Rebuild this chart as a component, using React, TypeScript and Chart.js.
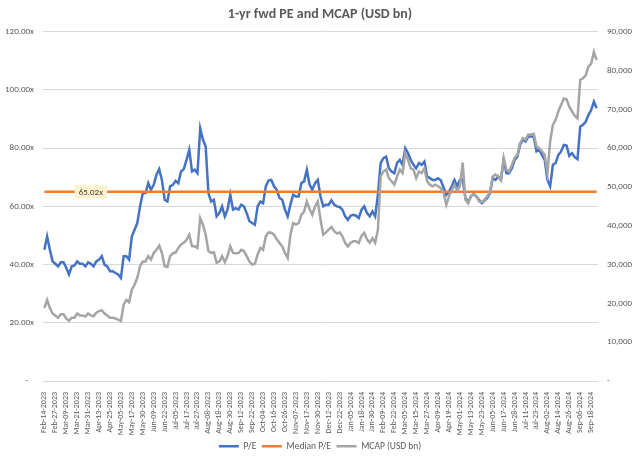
import React, { useEffect, useRef } from 'react';
import { Chart, registerables } from 'chart.js';

Chart.register(...registerables);

const TITLE = '1-yr fwd PE and MCAP (USD bn)';

const TICK_DATES = [
  'Feb-14-2023', 'Feb-27-2023', 'Mar-09-2023', 'Mar-21-2023', 'Mar-31-2023', 'Apr-13-2023', 'Apr-25-2023',
  'May-05-2023', 'May-17-2023', 'May-30-2023', 'Jun-09-2023', 'Jun-22-2023', 'Jul-05-2023', 'Jul-17-2023',
  'Jul-27-2023', 'Aug-08-2023', 'Aug-18-2023', 'Aug-30-2023', 'Sep-12-2023', 'Sep-22-2023', 'Oct-04-2023',
  'Oct-16-2023', 'Oct-26-2023', 'Nov-07-2023', 'Nov-17-2023', 'Nov-30-2023', 'Dec-12-2023', 'Dec-22-2023',
  'Jan-05-2024', 'Jan-18-2024', 'Jan-30-2024', 'Feb-09-2024', 'Feb-22-2024', 'Mar-05-2024', 'Mar-15-2024',
  'Mar-27-2024', 'Apr-09-2024', 'Apr-19-2024', 'May-01-2024', 'May-13-2024', 'May-23-2024', 'Jun-05-2024',
  'Jun-17-2024', 'Jun-28-2024', 'Jul-11-2024', 'Jul-23-2024', 'Aug-02-2024', 'Aug-14-2024', 'Aug-26-2024',
  'Sep-06-2024', 'Sep-18-2024',
];

// points between two consecutive date labels
const POINTS_PER_LABEL = 4;

const PE = [
  45.1, 49.7, 45.1, 41.1, 40.3, 39.4, 40.8, 40.8, 38.9, 36.6,
  39.4, 39.7, 41.1, 40.3, 40.3, 39.4, 40.8, 40.3, 39.4, 41.1,
  41.7, 42.9, 40.0, 39.4, 37.7, 37.7, 37.1, 36.6, 35.4, 42.9,
  42.9, 41.7, 49.7, 52.0, 54.3, 60.0, 64.6, 64.6, 68.0, 65.7,
  67.4, 70.9, 72.8, 69.1, 62.3, 61.7, 66.9, 67.4, 68.8, 68.0,
  72.0, 72.8, 76.0, 79.5, 72.0, 72.6, 71.4, 86.8, 82.9, 80.6,
  64.6, 61.7, 62.3, 56.6, 57.7, 60.0, 56.6, 58.9, 64.0, 58.9,
  59.4, 58.9, 60.6, 60.0, 57.7, 54.9, 54.3, 53.7, 60.0, 61.7,
  61.1, 66.9, 68.9, 69.1, 66.9, 65.7, 62.9, 62.3, 58.9, 56.6,
  60.6, 64.0, 63.4, 63.4, 68.0, 68.6, 72.6, 67.5, 65.7, 68.0,
  69.1, 63.4, 60.0, 60.6, 60.6, 62.1, 60.6, 60.0, 59.8, 58.9,
  56.6, 55.4, 56.8, 57.1, 56.8, 56.0, 58.9, 60.0, 57.7, 56.6,
  58.3, 56.6, 64.0, 74.9, 76.6, 77.1, 73.1, 72.0, 71.4, 74.9,
  76.0, 74.3, 80.0, 78.3, 76.0, 74.3, 73.1, 74.9, 74.3, 75.4,
  70.3, 69.7, 69.1, 69.1, 69.7, 69.0, 66.5, 64.0, 65.1, 66.9,
  69.1, 66.9, 69.1, 69.3, 62.9, 61.4, 63.4, 64.3, 63.4, 62.3,
  61.1, 62.0, 62.9, 64.6, 69.7, 69.1, 70.3, 69.1, 76.0, 71.4,
  71.4, 73.1, 76.0, 77.1, 81.1, 82.9, 82.3, 84.0, 84.0, 84.0,
  78.9, 79.4, 77.7, 76.0, 69.1, 66.9, 74.3, 74.9, 77.7, 78.9,
  81.1, 80.9, 77.4, 78.3, 76.9, 76.2, 87.4, 88.0, 89.1, 91.4,
  93.1, 96.0, 93.7,
];

const MCAP = [
  18800, 20900, 18800, 17400, 16900, 16300, 17200, 17200, 16100, 15500,
  16300, 16300, 17400, 16900, 16900, 16600, 17400, 16900, 16700, 17600,
  18000, 18200, 17400, 16900, 16300, 16300, 16100, 15800, 15500, 19700,
  20900, 20300, 23600, 24800, 26600, 29600, 30800, 30800, 32200, 31300,
  33000, 33800, 34900, 33000, 29600, 29400, 32200, 32900, 33100, 34300,
  35200, 35600, 36400, 37700, 34700, 34700, 34300, 42000, 40300, 37700,
  33500, 33000, 33200, 30500, 30800, 32200, 30600, 32200, 34700, 33000,
  32900, 33000, 33800, 33500, 32200, 30800, 30000, 30200, 32600, 34300,
  33800, 37300, 38300, 38200, 37700, 36500, 35600, 34700, 33000, 31700,
  37700, 40700, 40300, 40700, 42800, 43700, 46300, 44300, 42800, 45000,
  46300, 41600, 37700, 38300, 39000, 39700, 38600, 38000, 38300, 37300,
  35600, 34700, 35600, 36000, 36000, 35600, 37400, 38200, 36500, 35600,
  36800, 35600, 39000, 52700, 54000, 54500, 52300, 51500, 50600, 52700,
  54500, 53600, 58700, 57000, 54800, 54500, 52300, 54000, 53600, 54800,
  51500, 50600, 50200, 50600, 50200, 49700, 48500, 45400, 47600, 49100,
  50600, 49100, 50300, 56300, 46700, 45800, 47600, 48200, 47700, 46300,
  46100, 46700, 47600, 48800, 52700, 53200, 52700, 51800, 57500, 54500,
  54000, 55700, 57500, 58300, 61300, 62600, 62200, 63500, 63500, 63700,
  60500, 60000, 59200, 58300, 53600, 61700, 66000, 67300, 69500, 71200,
  72800, 72600, 70700, 69500, 68300, 67700, 77600, 78000, 78800, 81000,
  81800, 84800, 82700,
];

const MEDIAN_PE = 65.02;
const MEDIAN_LABEL_INDEX = 17;

const LEFT_TICKS = { min: 0, max: 120, step: 20 };
const RIGHT_TICKS = { min: 0, max: 90000, step: 10000 };

const FONT = 'Carlito, Lato, sans-serif';
const TEXT = '#595959';

const categories = PE.map((_, i) =>
  i % POINTS_PER_LABEL === 0 ? TICK_DATES[i / POINTS_PER_LABEL] ?? '' : ''
);
const medianSeries = PE.map(() => MEDIAN_PE);

const medianLabelPlugin = {
  id: 'medianLabel',
  afterDatasetsDraw(chart: any) {
    const meta = chart.getDatasetMeta(1);
    const pt = meta.data[MEDIAN_LABEL_INDEX];
    if (!pt) return;
    const ctx = chart.ctx;
    ctx.save();
    ctx.font = `9px ${FONT}`;
    const text = MEDIAN_PE.toFixed(2) + 'x';
    const w = ctx.measureText(text).width + 8;
    const h = 13;
    ctx.fillStyle = '#FFF2CC';
    ctx.fillRect(pt.x - w / 2, pt.y - h / 2, w, h);
    ctx.fillStyle = '#404040';
    ctx.textAlign = 'center';
    ctx.textBaseline = 'middle';
    ctx.fillText(text, pt.x, pt.y + 0.5);
    ctx.restore();
  },
};

export default function App() {
  const ref = useRef<HTMLCanvasElement>(null);

  useEffect(() => {
    document.body.style.margin = '0';
    const chart = new Chart(ref.current as HTMLCanvasElement, {
      type: 'line',
      data: {
        labels: categories,
        datasets: [
          {
            label: 'P/E',
            data: PE,
            borderColor: '#4472C4',
            backgroundColor: '#4472C4',
            borderWidth: 2.5,
            pointRadius: 0,
            yAxisID: 'y',
            order: 3,
          },
          {
            label: 'Median P/E',
            data: medianSeries,
            borderColor: '#ED7D31',
            backgroundColor: '#ED7D31',
            borderWidth: 2.5,
            pointRadius: 0,
            yAxisID: 'y',
            order: 2,
          },
          {
            label: 'MCAP (USD bn)',
            data: MCAP,
            borderColor: '#A5A5A5',
            backgroundColor: '#A5A5A5',
            borderWidth: 2.5,
            pointRadius: 0,
            yAxisID: 'y1',
            order: 1,
          },
        ],
      },
      options: {
        responsive: false,
        animation: false,
        events: [],
        layout: { padding: { left: 0, right: 0, top: 0, bottom: 0 } },
        plugins: {
          title: {
            display: true,
            text: TITLE,
            color: TEXT,
            font: { family: FONT, size: 14, weight: 'bold' },
            padding: { top: 6, bottom: 9 },
          },
          legend: {
            position: 'bottom',
            labels: {
              usePointStyle: true,
              pointStyle: 'line',
              pointStyleWidth: 20,
              color: TEXT,
              font: { family: FONT, size: 9.5 },
              padding: 5.5,
              sort: (a: any, b: any) => a.datasetIndex - b.datasetIndex,
            },
          },
          tooltip: { enabled: false },
        },
        scales: {
          x: {
            type: 'category',
            offset: true,
            grid: { display: false },
            border: { display: false },
            ticks: {
              autoSkip: false,
              minRotation: 90,
              maxRotation: 90,
              color: TEXT,
              font: { family: FONT, size: 8 },
              padding: 3,
              callback: function (this: any, value: any) {
                return this.getLabelForValue(value);
              },
            },
            afterFit: (scale: any) => {
              scale.height = 55;
            },
          },
          y: {
            position: 'left',
            min: LEFT_TICKS.min,
            max: LEFT_TICKS.max,
            grid: { color: '#D9D9D9', lineWidth: 1, drawTicks: false },
            border: { display: false },
            ticks: {
              stepSize: LEFT_TICKS.step,
              color: TEXT,
              font: { family: FONT, size: 9 },
              padding: 9,
              callback: (v: any) => (v === 0 ? '-   ' : Number(v).toFixed(2) + 'x'),
            },
            afterFit: (scale: any) => {
              scale.width = 43;
            },
          },
          y1: {
            position: 'right',
            min: RIGHT_TICKS.min,
            max: RIGHT_TICKS.max,
            grid: { display: false, drawTicks: false },
            border: { display: false },
            ticks: {
              stepSize: RIGHT_TICKS.step,
              color: TEXT,
              font: { family: FONT, size: 9 },
              padding: 9,
              callback: (v: any) => (v === 0 ? '-' : Number(v).toLocaleString('en-US')),
            },
            afterFit: (scale: any) => {
              scale.width = 42;
            },
          },
        },
      },
      plugins: [medianLabelPlugin],
    } as any);
    return () => chart.destroy();
  }, []);

  return (
    <div style={{ width: 640, height: 461, background: '#fff' }}>
      <canvas ref={ref} width={640} height={461} />
    </div>
  );
}
